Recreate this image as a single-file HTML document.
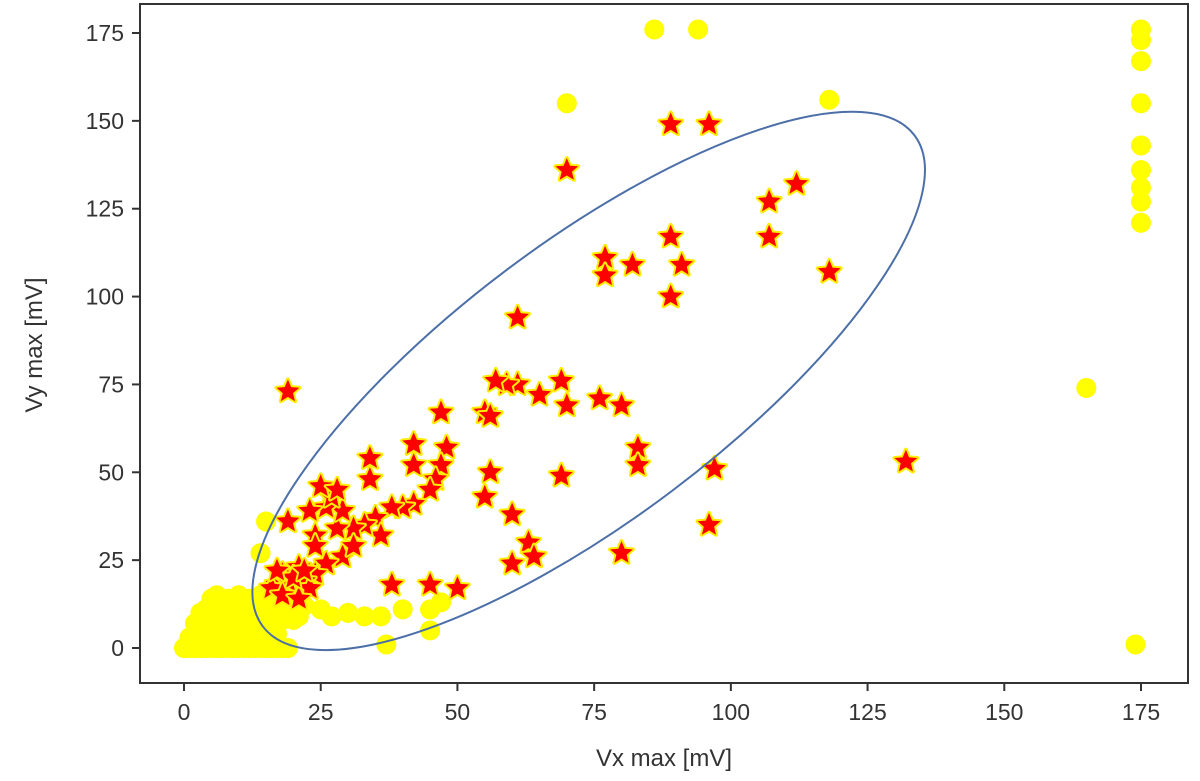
<!DOCTYPE html>
<html><head><meta charset="utf-8"><style>
html,body{margin:0;padding:0;background:#fff;}
svg{display:block;font-family:"Liberation Sans",sans-serif;}
</style></head><body>
<svg id="chart" width="1200" height="781" viewBox="0 0 1200 781"></svg>
<script>
const xTicks=[0,25,50,75,100,125,150,175];
const yTicks=[0,25,50,75,100,125,150,175];
const starX=[19,70,89,96,107,112,107,118,89,91,77,77,82,89,61,61,69,59,65,70,76,80,83,83,69,97,96,80,132,57,55,56,47,48,47,42,42,34,34,46,45,56,55,60,63,64,60,50,45,38,42,40,38,35,36,33,31,28,29,26,27,25,28,23,19,24,24,29,31,26,24,21,18,21,17,19,22,16,23,18,21,20,17,22];
const starY=[73,136,149,149,127,132,117,107,117,109,111,106,109,100,94,75,76,75,72,69,71,69,57,52,49,51,35,27,53,76,67,66,67,57,52,58,52,54,48,48,45,50,43,38,30,26,24,17,18,18,41,40,40,37,32,35,34,34,39,40,43,46,45,39,36,32,29,26,29,24,21,23,21,17,18,19,19,17,17,15,14,20,22,22];
const yelX=[86,94,70,118,175,175,175,175,175,175,175,175,175,165,174,37,45,47,45,40,36,33,27,21,15,14,
0,1,2,3,4,5,6,7,8,9,10,11,12,13,14,15,16,17,18,19,
1,2,3,4,5,6,7,8,9,10,11,12,13,14,15,16,17,
2,3,4,5,6,7,8,9,10,11,12,13,14,15,16,17,18,19,20,
3,4,5,6,7,8,9,10,11,12,13,14,15,16,
5,6,8,10,12,14,16,18,22,25,30];
const yelY=[176,176,155,156,176,173,167,155,143,136,131,127,121,74,1,1,5,13,11,11,9,9,9,9,36,27,
0,0,0,0,0,0,0,0,0,0,0,0,0,0,0,0,0,0,0,0,
3,3,4,3,4,3,4,3,4,3,4,3,4,3,4,3,4,
7,7,8,7,8,7,8,7,8,7,8,7,8,7,8,7,8,9,8,
10,11,10,11,10,11,10,11,10,12,11,10,11,10,
14,15,14,15,14,15,14,13,12,11,10];
const ellCenter=[74,76];

const NS="http://www.w3.org/2000/svg";
const svg=document.getElementById('chart');
const X=v=>184+v*(1141-184)/175;
const Y=v=>648-v*(648-33)/175;
function mk(tag,attrs,parent){const e=document.createElementNS(NS,tag);for(const k in attrs)e.setAttribute(k,attrs[k]);(parent||svg).appendChild(e);return e;}

const plot=mk('g',{});



const yg=mk('g',{},plot);


for(let i=0;i<yelX.length;i++){
  const c=mk('circle',{cx:X(yelX[i]),cy:Y(yelY[i]),r:10,fill:'#ffff00'},yg);
  
  
}
function starPath(cx,cy,R){const r=R*0.45;let d='';for(let k=0;k<10;k++){const a=-Math.PI/2+k*Math.PI/5;const rr=k%2?r:R;d+=(k?'L':'M')+(cx+rr*Math.cos(a)).toFixed(1)+','+(cy+rr*Math.sin(a)).toFixed(1);}return d+'Z';}
const sg=mk('g',{},plot);


for(let i=0;i<starX.length;i++){
  const p=mk('path',{d:starPath(X(starX[i]),Y(starY[i]),12),fill:'#ff0000',stroke:'#ffee00','stroke-width':4,'stroke-linejoin':'round','paint-order':'stroke'},sg);
  
  
}
const el=mk('ellipse',{cx:X(ellCenter[0]),cy:Y(ellCenter[1]),rx:408,ry:138,fill:'none',stroke:'#4c6fa8','stroke-width':2,transform:`rotate(-37 ${X(ellCenter[0])} ${Y(ellCenter[1])})`},plot);



const fr=mk('rect',{x:140,y:4,width:1048,height:679,fill:'none',stroke:'#333','stroke-width':2});



const xa=mk('g',{});


xTicks.forEach(t=>{
  mk('line',{x1:X(t),x2:X(t),y1:683,y2:691,stroke:'#333','stroke-width':2},xa);
  const tx=mk('text',{x:X(t),y:720,'text-anchor':'middle','font-size':23,fill:'#333'},xa);
  tx.textContent=t;
  
  
});
const ya=mk('g',{});


yTicks.forEach(t=>{
  mk('line',{x1:132,x2:140,y1:Y(t),y2:Y(t),stroke:'#333','stroke-width':2},ya);
  const tx=mk('text',{x:124,y:Y(t)+8,'text-anchor':'end','font-size':23,fill:'#333'},ya);
  tx.textContent=t;
  
  
});
const xt=mk('text',{x:664,y:766,'text-anchor':'middle','font-size':24,fill:'#333'});
xt.textContent='Vx max [mV]';


const yt=mk('text',{x:42,y:345,'text-anchor':'middle','font-size':24,fill:'#333',transform:'rotate(-90 42 345)'});
yt.textContent='Vy max [mV]';


</script>
</body></html>
